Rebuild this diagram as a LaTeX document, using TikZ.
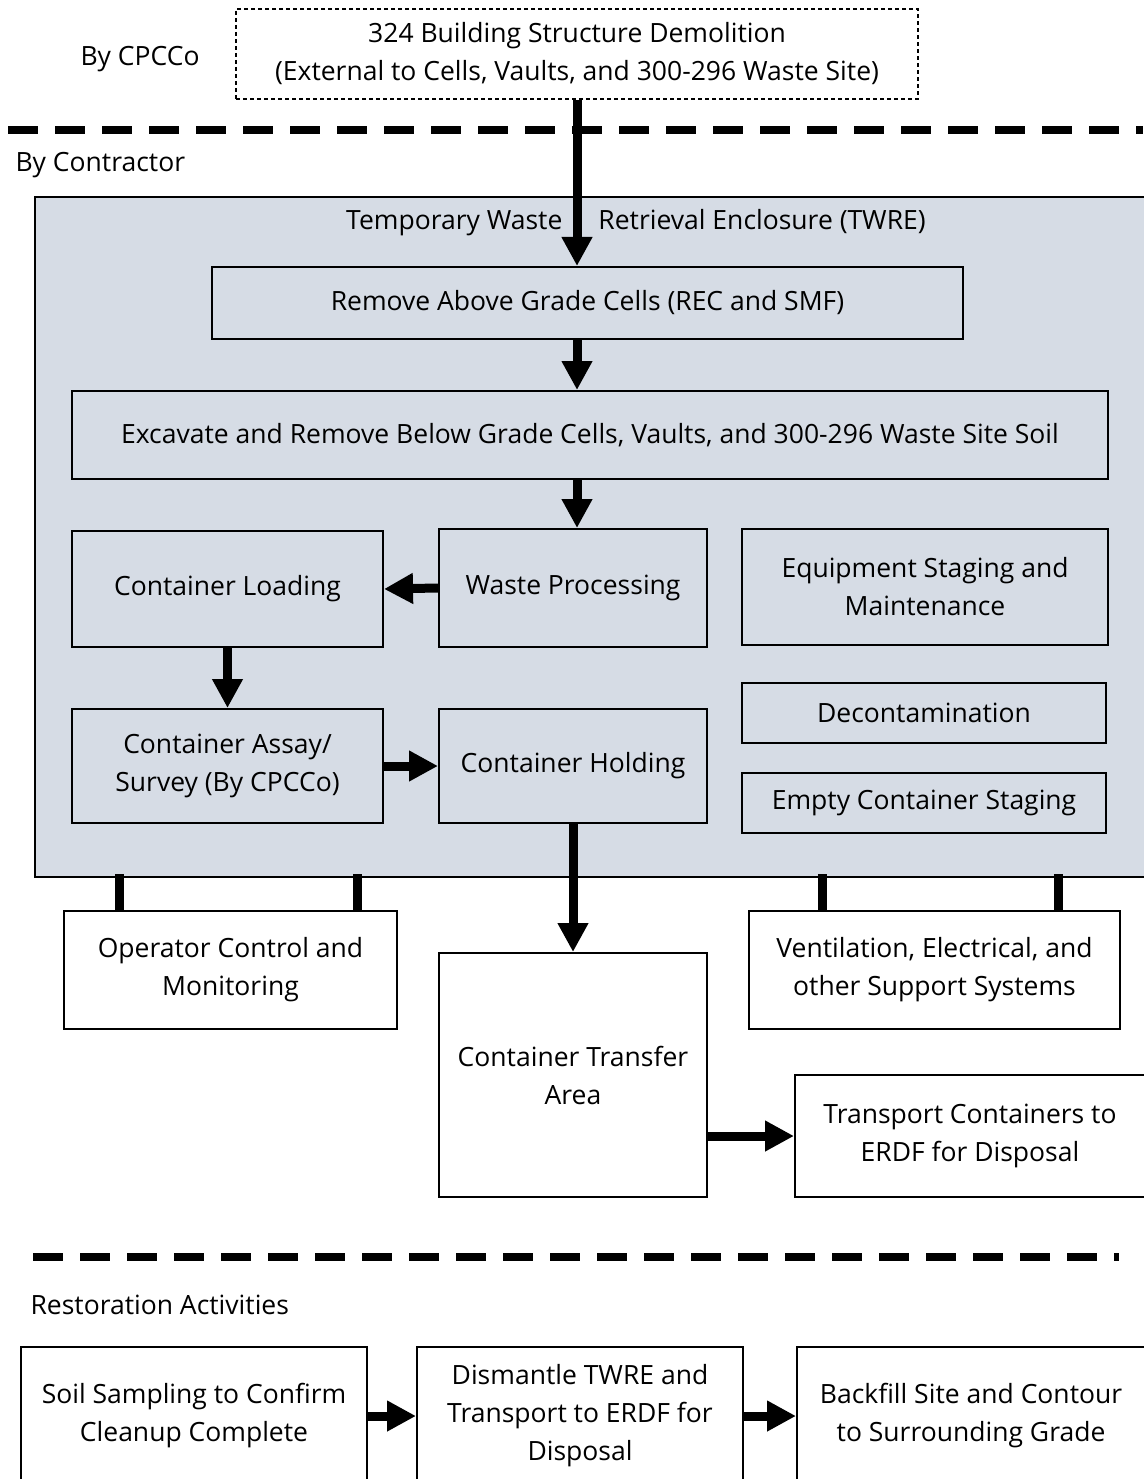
\documentclass[tikz,border=0pt]{standalone}
\usepackage{fontspec}
\setmainfont{Open Sans}
\usetikzlibrary{arrows.meta}

\definecolor{twrefill}{HTML}{D6DCE5}

\tikzset{
  box/.style={draw=black, line width=2pt, fill=white, align=center, inner sep=0pt},
  inbox/.style={box, fill=twrefill},
  arr/.style={line width=9pt, -{Triangle[width=29pt,length=29pt]}},
  link/.style={line width=9pt},
  split/.style={line width=8pt, dash pattern=on 30pt off 17pt},
}

\begin{document}
\begin{tikzpicture}[x=1pt, y=-1pt, font=\fontsize{26.5}{38}\selectfont]
\useasboundingbox (0,0) rectangle (1143,1479);

% top: by CPCCo
\node (bycpcco) at (140,59) {By CPCCo};
\node[box, draw=black, line width=1.5pt, dash pattern=on 4pt off 3pt, minimum width=682pt, minimum height=90pt] (demo) at (577,54) {324 Building Structure Demolition\\(External to Cells, Vaults, and 300-296 Waste Site)};

\coordinate (sa) at (8,130);
\coordinate (sb) at (1143,130);
\draw[split] (sa) -- (sb);

\node[anchor=west] (bycontr) at (12,165) {By Contractor};

% enclosure
\node[draw=black, line width=2pt, fill=twrefill, minimum width=1115pt, minimum height=680pt] (twre) at (592.5,537) {};
\node (twrelabel) at (636,223) {Temporary Waste\hspace{36pt}Retrieval Enclosure (TWRE)};

\node[inbox, minimum width=751pt, minimum height=72pt] (remove) at (587.5,303) {Remove Above Grade Cells (REC and SMF)};
\node[inbox, minimum width=1036pt, minimum height=88pt] (excavate) at (590,435) {Excavate and Remove Below Grade Cells, Vaults, and 300-296 Waste Site Soil};
\node[inbox, minimum width=268pt, minimum height=118pt] (waste) at (573,588) {Waste Processing};
\node[inbox, minimum width=311pt, minimum height=116pt] (loading) at (227.5,589) {Container Loading};
\node[inbox, minimum width=366pt, minimum height=116pt] (equip) at (925,587) {Equipment Staging and\\Maintenance};
\node[inbox, minimum width=364pt, minimum height=60pt] (decon) at (924,713) {Decontamination};
\node[inbox, minimum width=364pt, minimum height=60pt] (empty) at (924,803) {Empty Container Staging};
\node[inbox, minimum width=311pt, minimum height=114pt] (assay) at (227.5,766) {Container Assay/\\Survey (By CPCCo)};
\node[inbox, minimum width=268pt, minimum height=114pt] (holding) at (573,766) {Container Holding};

% outside the enclosure
\node[box, minimum width=333pt, minimum height=118pt] (operator) at (230.5,970) {Operator Control and\\Monitoring};
\node[box, minimum width=371pt, minimum height=118pt] (vent) at (934.5,970) {Ventilation, Electrical, and\\other Support Systems};
\node[box, minimum width=268pt, minimum height=244pt] (transfer) at (573,1075) {Container Transfer\\Area};
\node[box, minimum width=350pt, minimum height=122pt] (transport) at (970,1136) {Transport Containers to\\ERDF for Disposal};

\draw[arr] (demo.south) -- (demo.south |- remove.north);
\draw[arr] (demo.south |- remove.south) -- (demo.south |- excavate.north);
\draw[arr] (demo.south |- excavate.south) -- (demo.south |- waste.north);
\draw[arr] (waste.west) -- (loading.east);
\draw[arr] (loading.south) -- (assay.north);
\draw[arr] (assay.east) -- (holding.west);
\draw[arr] (holding.south) -- (transfer.north);
\draw[arr] (transport.west -| transfer.east) -- (transport.west);

\coordinate (op1) at (119,911);
\coordinate (op2) at (357,911);
\coordinate (ve1) at (822,911);
\coordinate (ve2) at (1058,911);
\foreach \c in {op1,op2,ve1,ve2}
  \draw[link] (\c) -- ([yshift=4pt]\c |- twre.south);

% restoration
\coordinate (sc) at (33,1257);
\coordinate (sd) at (1119,1257);
\draw[split] (sc) -- (sd);

\node[anchor=west] (restore) at (27,1305) {Restoration Activities};

\node[box, minimum width=346pt, minimum height=138pt] (soil) at (194,1416) {Soil Sampling to Confirm\\Cleanup Complete};
\node[box, minimum width=326pt, minimum height=138pt] (dismantle) at (580,1416) {Dismantle TWRE and\\Transport to ERDF for\\Disposal};
\node[box, minimum width=348pt, minimum height=138pt] (backfill) at (971,1416) {Backfill Site and Contour\\to Surrounding Grade};

\draw[arr] (soil.east) -- (dismantle.west);
\draw[arr] (dismantle.east) -- (backfill.west);
\end{tikzpicture}
\end{document}
